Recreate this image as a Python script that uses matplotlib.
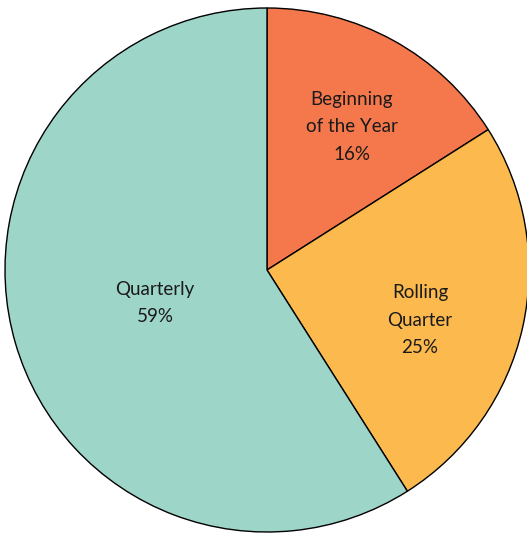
import matplotlib
matplotlib.use("Agg")
import matplotlib.pyplot as plt

labels = ["Beginning\nof the Year", "Rolling\nQuarter", "Quarterly"]
shares = [16, 25, 59]
colors = ["#F4784B", "#FCBA4E", "#9DD5C8"]
# label centres relative to pie centre, in pie radii
label_xy = [(0.324, 0.546), (0.584, -0.191), (-0.427, -0.126)]

plt.rcParams['font.family'] = ['Lato', 'DejaVu Sans']

fig = plt.figure(figsize=(5.27, 5.33), dpi=100)
ax = fig.add_axes([0, 0, 1, 1])

wedges, _ = ax.pie(shares, colors=colors, startangle=90, counterclock=False,
                   radius=1, wedgeprops=dict(edgecolor='black', linewidth=1.0))

for lab, val, (x, y) in zip(labels, shares, label_xy):
    ax.text(x, y, f"{lab}\n{val}%", ha='center', va='center', fontsize=13.5,
            color='#1a1a1a', linespacing=1.75)

s = 262.0
ax.set_xlim(-267 / s, 260 / s)
ax.set_ylim(-263 / s, 270 / s)
ax.set_aspect('auto')
ax.axis('off')

fig.savefig("out.png", dpi=100)
